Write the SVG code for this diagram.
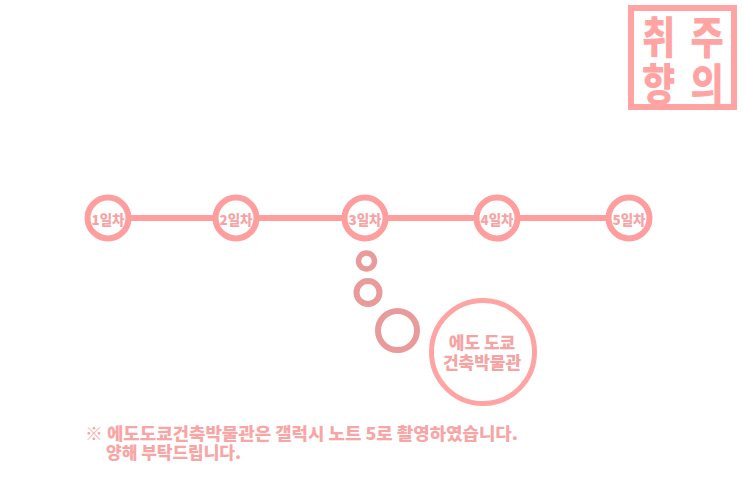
<svg xmlns="http://www.w3.org/2000/svg" width="743" height="495" viewBox="0 0 743 495">
<style>
.t{font-family:"Noto Sans CJK KR","Noto Sans",sans-serif;font-weight:900;fill:#F5A3A3;text-anchor:middle;dominant-baseline:central}
.s{font-family:"Noto Sans CJK KR","Noto Sans",sans-serif;font-weight:900;fill:#FFA3A3;text-anchor:middle;font-size:44px}
.day{fill:#fff;stroke:#FF9E9E;stroke-width:6}
.bub{fill:none;stroke:#E99A9A}
.note{font-family:"Noto Sans CJK KR","Noto Sans",sans-serif;font-weight:900;fill:#F7A5A5;font-size:17px}
</style>
<rect width="743" height="495" fill="#fff"/>
<g id="stamp">
<rect x="631" y="8" width="103" height="99" fill="none" stroke="#FFA3A3" stroke-width="6"/>
<text class="s" transform="translate(658.5,54) scale(0.82,1)">취</text>
<text class="s" transform="translate(707,54) scale(0.82,1)">주</text>
<text class="s" transform="translate(658.5,101) scale(0.82,1)">향</text>
<text class="s" transform="translate(707,101) scale(0.82,1)">의</text>
</g>
<g id="connectors">
<line x1="108" y1="218" x2="629" y2="218" stroke="#FF9E9E" stroke-width="6"/>
</g>
<g id="day1"><circle class="day" cx="108" cy="218" r="20.5"/><text class="t" x="108" y="219" font-size="13.5">1일차</text></g>
<g id="day2"><circle class="day" cx="236" cy="218" r="20.5"/><text class="t" x="236" y="219" font-size="13.5">2일차</text></g>
<g id="day3"><circle class="day" cx="365" cy="218" r="20.5"/><text class="t" x="365" y="219" font-size="13.5">3일차</text></g>
<g id="day4"><circle class="day" cx="497" cy="218" r="20.5"/><text class="t" x="497" y="219" font-size="13.5">4일차</text></g>
<g id="day5"><circle class="day" cx="629" cy="218" r="20.5"/><text class="t" x="629" y="219" font-size="13.5">5일차</text></g>
<g id="bubbles">
<circle class="bub" cx="366.5" cy="261" r="8" stroke-width="5.5"/>
<circle class="bub" cx="368" cy="292.5" r="11.5" stroke-width="6"/>
<circle class="bub" cx="397.5" cy="330.5" r="19.5" stroke-width="6"/>
</g>
<g id="museum">
<circle cx="483" cy="352" r="51.5" fill="#fff" stroke="#FFA3A3" stroke-width="5"/>
<text class="t" x="482" y="341" font-size="17">에도 도쿄</text>
<text class="t" x="482" y="361" font-size="17">건축박물관</text>
</g>
<g id="note">
<text class="note" x="85" y="440" textLength="433" lengthAdjust="spacingAndGlyphs">※ 에도도쿄건축박물관은 갤럭시 노트 5로 촬영하였습니다.</text>
<text class="note" x="106" y="459">양해 부탁드립니다.</text>
</g>
</svg>
